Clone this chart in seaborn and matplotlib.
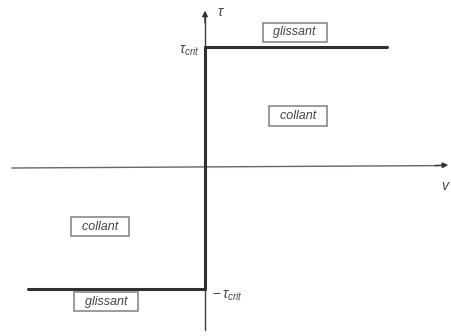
import matplotlib
matplotlib.use("Agg")
import matplotlib.pyplot as plt
import seaborn as sns
import pandas as pd

sns.set_theme(style="white")
plt.rcParams['font.family'] = ['Liberation Sans', 'DejaVu Sans']
plt.rcParams['mathtext.fontset'] = 'custom'
plt.rcParams['mathtext.it'] = 'Liberation Sans:italic'
plt.rcParams['mathtext.rm'] = 'Liberation Sans'
plt.rcParams['mathtext.fallback'] = 'cm'

# Friction law data: tau_crit normalised to 1
v_step = [-1.46, 0.0, 0.0, 1.50]
tau_step = [-1.0, -1.0, 1.0, 1.0]
region_labels = ["glissant", "collant", "collant", "glissant"]
axis_labels = [r"$\tau$", r"$v$"]
tick_labels = [r"$\tau_{crit}$", r"$\mathrm{-}\,\tau_{crit}$"]

df = pd.DataFrame({"v": v_step, "tau": tau_step})

fig = plt.figure(figsize=(4.52, 3.36), dpi=100)
ax = fig.add_axes([0, 0, 1, 1])

# axes with arrows
ax.plot([0, 0], [-1.34, 1.25], color="#3a3a3a", lw=1.0)
ax.annotate("", xy=(0, 1.30), xytext=(0, 1.2),
            arrowprops=dict(arrowstyle="-|>", color="#333333", lw=1.0,
                            mutation_scale=8, shrinkA=0, shrinkB=0))
ax.plot([-1.595, 1.96], [0.0, 0.02], color="#606870", lw=1.0)
ax.annotate("", xy=(2.01, 0.025), xytext=(1.9, 0.02),
            arrowprops=dict(arrowstyle="-|>", color="#333333", lw=1.0,
                            mutation_scale=8, shrinkA=0, shrinkB=0))

# step law
sns.lineplot(data=df, x="v", y="tau", sort=False, estimator=None,
             color="#2f2f2f", lw=2.2, ax=ax)
ax.set_xlim(-1.694, 2.041)
ax.set_ylim(-1.388, 1.388)
ax.axis("off")

# axis labels
ax.text(0.10, 1.29, axis_labels[0], fontsize=10, color="#444444", ha="left", va="center")
ax.text(1.99, -0.15, axis_labels[1], fontsize=10, color="#444444", ha="center", va="center")
ax.text(-0.045, 0.97, tick_labels[0], fontsize=10, color="#444444", ha="right", va="center")
ax.text(0.06, -1.06, tick_labels[1], fontsize=10, color="#444444", ha="left", va="center")

# region boxes
pos = [(0.74, 1.12), (0.77, 0.43), (-0.87, -0.485), (-0.82, -1.105)]
for (x, y), lab in zip(pos, region_labels):
    ax.text(x, y, "  " + lab + "  ", fontsize=9, style="italic", color="#444444",
            ha="center", va="center",
            bbox=dict(boxstyle="square,pad=0.3", fc="white", ec="#8a8a8a", lw=1.2))

fig.savefig("out.png", dpi=100)
